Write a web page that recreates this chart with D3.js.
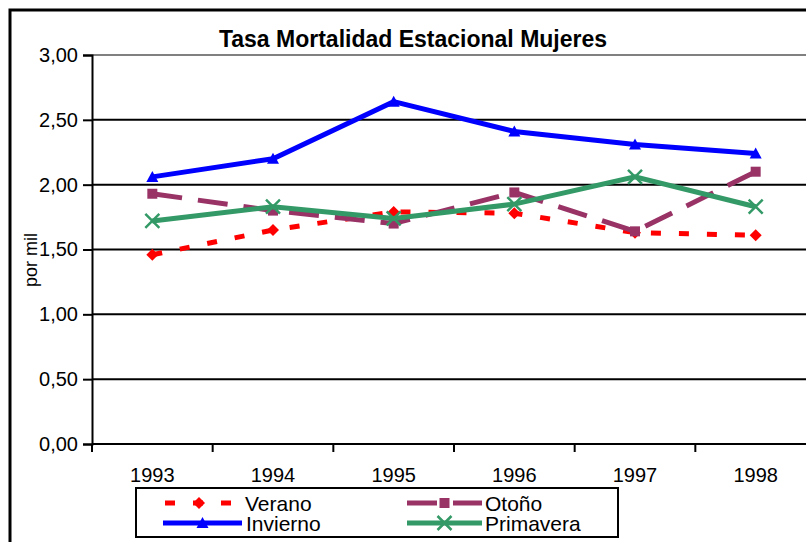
<!DOCTYPE html>
<html>
<head>
<meta charset="utf-8">
<script src="https://cdn.jsdelivr.net/npm/d3@7/dist/d3.min.js"></script>
<style>
  body{margin:0;background:#fff;}
  text{font-family:"Liberation Sans",Arial,sans-serif;}
</style>
</head>
<body>
<div id="chart"></div>
<script>
  // data
  var years = ["1993","1994","1995","1996","1997","1998"];
  var verano = [1.46,1.65,1.79,1.78,1.63,1.61];
  var otono = [1.93,1.80,1.70,1.94,1.64,2.10];
  var invierno = [2.06,2.20,2.64,2.41,2.31,2.24];
  var primavera = [1.72,1.83,1.74,1.85,2.06,1.83];
  var yTicks = [0,0.5,1,1.5,2,2.5,3];

  var series = [
    {name:"Verano", values:verano, color:"#ff0000", dash:"10,18", marker:"diamond"},
    {name:"Otoño", values:otono, color:"#993366", dash:"30,16", marker:"square"},
    {name:"Invierno", values:invierno, color:"#0000ff", dash:null, marker:"triangle"},
    {name:"Primavera", values:primavera, color:"#339966", dash:null, marker:"cross"}
  ];

  var W = 806, H = 542;
  var svg = d3.select("#chart").append("svg")
        .attr("width",W).attr("height",H);

  // outer frame (cut by the picture edge)
  svg.append("rect")
     .attr("x",10).attr("y",10)
     .attr("width",W+20).attr("height",H+20)
     .attr("fill","none").attr("stroke","#000").attr("stroke-width",3);

  var x = d3.scaleBand().domain(years).range([92,816]);
  var y = d3.scaleLinear().domain([0,3]).range([444,55]);
  var fmt = function(d){ return d3.format(".2f")(d).replace(".",","); };

  // gridlines
  svg.append("g").selectAll("line")
     .data(yTicks.filter(function(d){return d>0;}))
     .enter().append("line")
     .attr("x1",92).attr("x2",W)
     .attr("y1",function(d){return y(d);}).attr("y2",function(d){return y(d);})
     .attr("stroke",function(d){return d==3?"#808080":"#000";})
     .attr("stroke-width",2);

  // y axis
  var yAxis = svg.append("g")
        .attr("transform","translate(92,0)")
        .call(d3.axisLeft(y).tickValues(yTicks).tickFormat(fmt).tickSize(9).tickPadding(5));
  yAxis.select(".domain").attr("stroke-width",2);
  yAxis.selectAll(".tick line").attr("stroke-width",2);
  yAxis.selectAll("text").style("font-size","20px").attr("fill","#000");

  // x axis, ticks on category boundaries
  var xAxis = svg.append("g")
        .attr("transform","translate(0,444)");
  xAxis.append("line")
       .attr("x1",92).attr("x2",W).attr("y1",0).attr("y2",0)
       .attr("stroke","#000").attr("stroke-width",2);
  xAxis.selectAll(".xt")
       .data(years.concat(["end"]))
       .enter().append("line")
       .attr("class","xt")
       .attr("x1",function(d,i){return 92+i*x.bandwidth();})
       .attr("x2",function(d,i){return 92+i*x.bandwidth();})
       .attr("y1",0).attr("y2",8)
       .attr("stroke","#000").attr("stroke-width",2);
  xAxis.selectAll(".xl")
       .data(years)
       .enter().append("text")
       .attr("class","xl")
       .attr("x",function(d){return x(d)+x.bandwidth()/2;})
       .attr("y",38)
       .attr("text-anchor","middle")
       .style("font-size","20px")
       .text(function(d){return d;});

  // titles
  svg.append("text")
     .attr("x",413).attr("y",47)
     .attr("text-anchor","middle")
     .style("font-size","23px").style("font-weight","bold")
     .text("Tasa Mortalidad Estacional Mujeres");
  svg.append("text")
     .attr("transform","translate(37,260) rotate(-90)")
     .attr("text-anchor","middle")
     .style("font-size","18px")
     .text("por mil");

  function drawMarker(g, type, color){
    if(type=="diamond"){
      g.append("path").attr("d","M0,-6L6,0L0,6L-6,0Z").attr("fill",color);
    }else if(type=="square"){
      g.append("rect").attr("x",-5).attr("y",-5).attr("width",10).attr("height",10).attr("fill",color);
    }else if(type=="triangle"){
      g.append("path").attr("d","M0,-6L6,5L-6,5Z").attr("fill",color);
    }else{
      g.append("path").attr("d","M-7,-7L7,7M-7,7L7,-7")
       .attr("stroke",color).attr("stroke-width",2.5).attr("fill","none");
    }
  }

  var line = d3.line()
        .x(function(d,i){return x(years[i])+x.bandwidth()/2;})
        .y(function(d){return y(d);});

  series.forEach(function(s){
    svg.append("path")
       .datum(s.values)
       .attr("d",line)
       .attr("fill","none")
       .attr("stroke",s.color)
       .attr("stroke-width",5)
       .attr("stroke-dasharray",s.dash);
    s.values.forEach(function(v,i){
      var g = svg.append("g")
           .attr("transform","translate("+(x(years[i])+x.bandwidth()/2)+","+y(v)+")");
      drawMarker(g,s.marker,s.color);
    });
  });

  // legend
  var legend = svg.append("g");
  legend.append("rect")
        .attr("x",136).attr("y",488).attr("width",482).attr("height",49)
        .attr("fill","#fff").attr("stroke","#000").attr("stroke-width",2);
  var legPos = [
    {x1:165,x2:233,y:503,tx:245},
    {x1:407,x2:482,y:503,tx:485},
    {x1:163,x2:242,y:523,tx:246},
    {x1:407,x2:482,y:523,tx:485}
  ];
  series.forEach(function(s,i){
    var p = legPos[i];
    legend.append("line")
          .attr("x1",p.x1).attr("x2",p.x2).attr("y1",p.y).attr("y2",p.y)
          .attr("stroke",s.color).attr("stroke-width",5)
          .attr("stroke-dasharray",s.dash);
    var g = legend.append("g").attr("transform","translate("+((p.x1+p.x2)/2)+","+p.y+")");
    drawMarker(g,s.marker,s.color);
    legend.append("text")
          .attr("x",p.tx).attr("y",p.y+8)
          .style("font-size","21px")
          .text(s.name);
  });
</script>
</body>
</html>
